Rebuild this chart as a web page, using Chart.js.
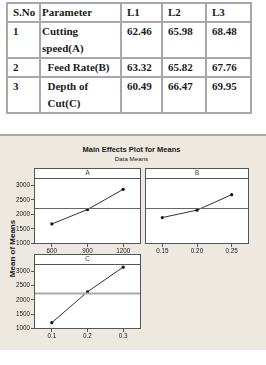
<!DOCTYPE html>
<html>
<head>
<meta charset="utf-8">
<script src="https://cdn.jsdelivr.net/npm/chart.js@4"></script>
<style>
  body { margin: 0; width: 266px; height: 365px; background: #fff; position: relative; overflow: hidden; }
  #tbl { position: absolute; left: 6px; top: 2px; width: 246px; border-collapse: collapse; table-layout: fixed;
         font-family: "Liberation Serif", serif; font-weight: bold; font-size: 11px; color: #1a1a1a; }
  #tbl td { border: 2px solid #a8a8a8; padding: 0 0 0 5px; vertical-align: top; line-height: 17px; white-space: nowrap; }
  #panel { position: absolute; left: 0; top: 134px; width: 266px; height: 214px; background: #ede9e0; border-top: 2px solid #a9a9a9; }
  .txt { position: absolute; font-family: "Liberation Sans", sans-serif; color: #1a1a1a; white-space: nowrap; }
  canvas { position: absolute; }
</style>
</head>
<body>
<table id="tbl"></table>
<div id="panel"></div>
<div class="txt" style="left:0;width:263px;text-align:center;top:145px;font-size:7.5px;font-weight:bold;">Main Effects Plot for Means</div>
<div class="txt" style="left:0;width:263px;text-align:center;top:155px;font-size:6.2px;">Data Means</div>
<div class="txt" style="left:-18px;top:244px;width:60px;text-align:center;font-size:8px;font-weight:bold;transform:rotate(-90deg);">Mean of Means</div>
<canvas id="chartA" width="145" height="95" style="left:0;top:165px"></canvas>
<canvas id="chartB" width="112" height="95" style="left:141px;top:165px"></canvas>
<canvas id="chartC" width="145" height="94" style="left:0;top:251px"></canvas>
<script>
// table values
var sno = ['1', '2', '3'];
var params = [['Cutting', 'speed(A)'], ['\u00a0\u00a0Feed Rate(B)'], ['\u00a0\u00a0Depth of', '\u00a0\u00a0Cut(C)']];
var l1 = ['62.46', '63.32', '60.49'];
var l2 = ['65.98', '65.82', '66.47'];
var l3 = ['68.48', '67.76', '69.95'];

// main effects data
var levelsA = ['600', '900', '1200'];
var levelsB = ['0.15', '0.20', '0.25'];
var levelsC = ['0.1', '0.2', '0.3'];
var meansA = [1670, 2165, 2860];
var meansB = [1890, 2145, 2675];
var meansC = [1200, 2280, 3140];
var grandMean = 2220;
var yTicks = [1000, 1500, 2000, 2500, 3000];

var tbl = document.getElementById('tbl');
var html = '<colgroup><col style="width:33px"><col style="width:81px"><col style="width:41px"><col style="width:44px"><col style="width:45px"></colgroup>';
html += '<tr style="height:17px"><td>S.No</td><td style="padding-left:1px">Parameter</td><td>L1</td><td>L2</td><td>L3</td></tr>';
var rowH = [36, 18, 35];
for (var i = 0; i < sno.length; i++) {
  html += '<tr style="height:' + rowH[i] + 'px"><td>' + sno[i] + '</td><td style="padding-left:1px">' + params[i].join('<br>') +
    '</td><td>' + l1[i] + '</td><td>' + l2[i] + '</td><td>' + l3[i] + '</td></tr>';
}
tbl.innerHTML = html;

var tickFont = { family: '"Liberation Sans", sans-serif', size: 6.3 };

var framePlugin = {
  id: 'frame',
  afterDraw: function(chart, args, opts) {
    var ctx = chart.ctx, a = chart.chartArea, y = chart.scales.y;
    ctx.save();
    // grand mean line
    var gy = Math.round(y.getPixelForValue(grandMean)) + 0.5;
    ctx.strokeStyle = opts.meanColor;
    ctx.lineWidth = opts.meanWidth;
    ctx.beginPath(); ctx.moveTo(a.left, gy); ctx.lineTo(a.right, gy); ctx.stroke();
    // header strip
    ctx.fillStyle = '#fff';
    ctx.fillRect(a.left, a.top - 10, a.right - a.left, 10);
    ctx.strokeStyle = '#555';
    ctx.lineWidth = 1;
    ctx.strokeRect(a.left + 0.5, a.top - 9.5, a.right - a.left - 1, 10);
    ctx.fillStyle = '#333';
    ctx.font = '6.3px "Liberation Sans", sans-serif';
    ctx.textAlign = 'center';
    ctx.textBaseline = 'middle';
    ctx.fillText(opts.label, (a.left + a.right) / 2, a.top - 4.5);
    // panel border
    ctx.strokeStyle = '#555';
    ctx.strokeRect(a.left + 0.5, a.top + 0.5, a.right - a.left - 1, a.bottom - a.top - 1);
    ctx.restore();
  }
};

var whiteBg = {
  id: 'whiteBg',
  beforeDraw: function(chart) {
    var a = chart.chartArea;
    chart.ctx.fillStyle = '#fff';
    chart.ctx.fillRect(a.left, a.top, a.right - a.left, a.bottom - a.top);
  }
};

function makePanel(id, labels, values, label, showY, pad, meanColor, meanWidth) {
  return new Chart(document.getElementById(id), {
    type: 'line',
    data: {
      labels: labels,
      datasets: [{
        data: values,
        borderColor: '#333',
        borderWidth: 1,
        backgroundColor: '#111',
        pointRadius: 1.6,
        pointBorderWidth: 0,
        tension: 0
      }]
    },
    options: {
      responsive: false,
      animation: false,
      layout: { padding: pad },
      plugins: {
        legend: { display: false },
        tooltip: { enabled: false },
        frame: { label: label, meanColor: meanColor, meanWidth: meanWidth }
      },
      scales: {
        x: {
          offset: true,
          border: { display: false },
          grid: { drawOnChartArea: false, tickLength: 3, color: '#555', offset: false },
          ticks: { padding: 0, color: '#222', font: tickFont, maxRotation: 0 },
          afterFit: function(s) { s.height = 16; }
        },
        y: {
          display: showY,
          min: 980,
          max: 3250,
          border: { display: false },
          grid: { drawOnChartArea: false, tickLength: 3, color: '#555' },
          ticks: { padding: 1, color: '#222', font: tickFont, callback: function(v) { return String(v); } },
          afterBuildTicks: function(s) { s.ticks = yTicks.map(function(v) { return { value: v }; }); },
          afterFit: function(s) { s.width = showY ? 34 : 0; }
        }
      }
    },
    plugins: [whiteBg, framePlugin]
  });
}

makePanel('chartA', levelsA, meansA, 'A', true, { top: 13, right: 2, left: 0, bottom: 0 }, '#666', 1);
makePanel('chartB', levelsB, meansB, 'B', false, { top: 13, right: 2, left: 2, bottom: 0 }, '#666', 1);
makePanel('chartC', levelsC, meansC, 'C', true, { top: 13, right: 2, left: 0, bottom: 0 }, '#aaa', 2);
</script>
</body>
</html>
